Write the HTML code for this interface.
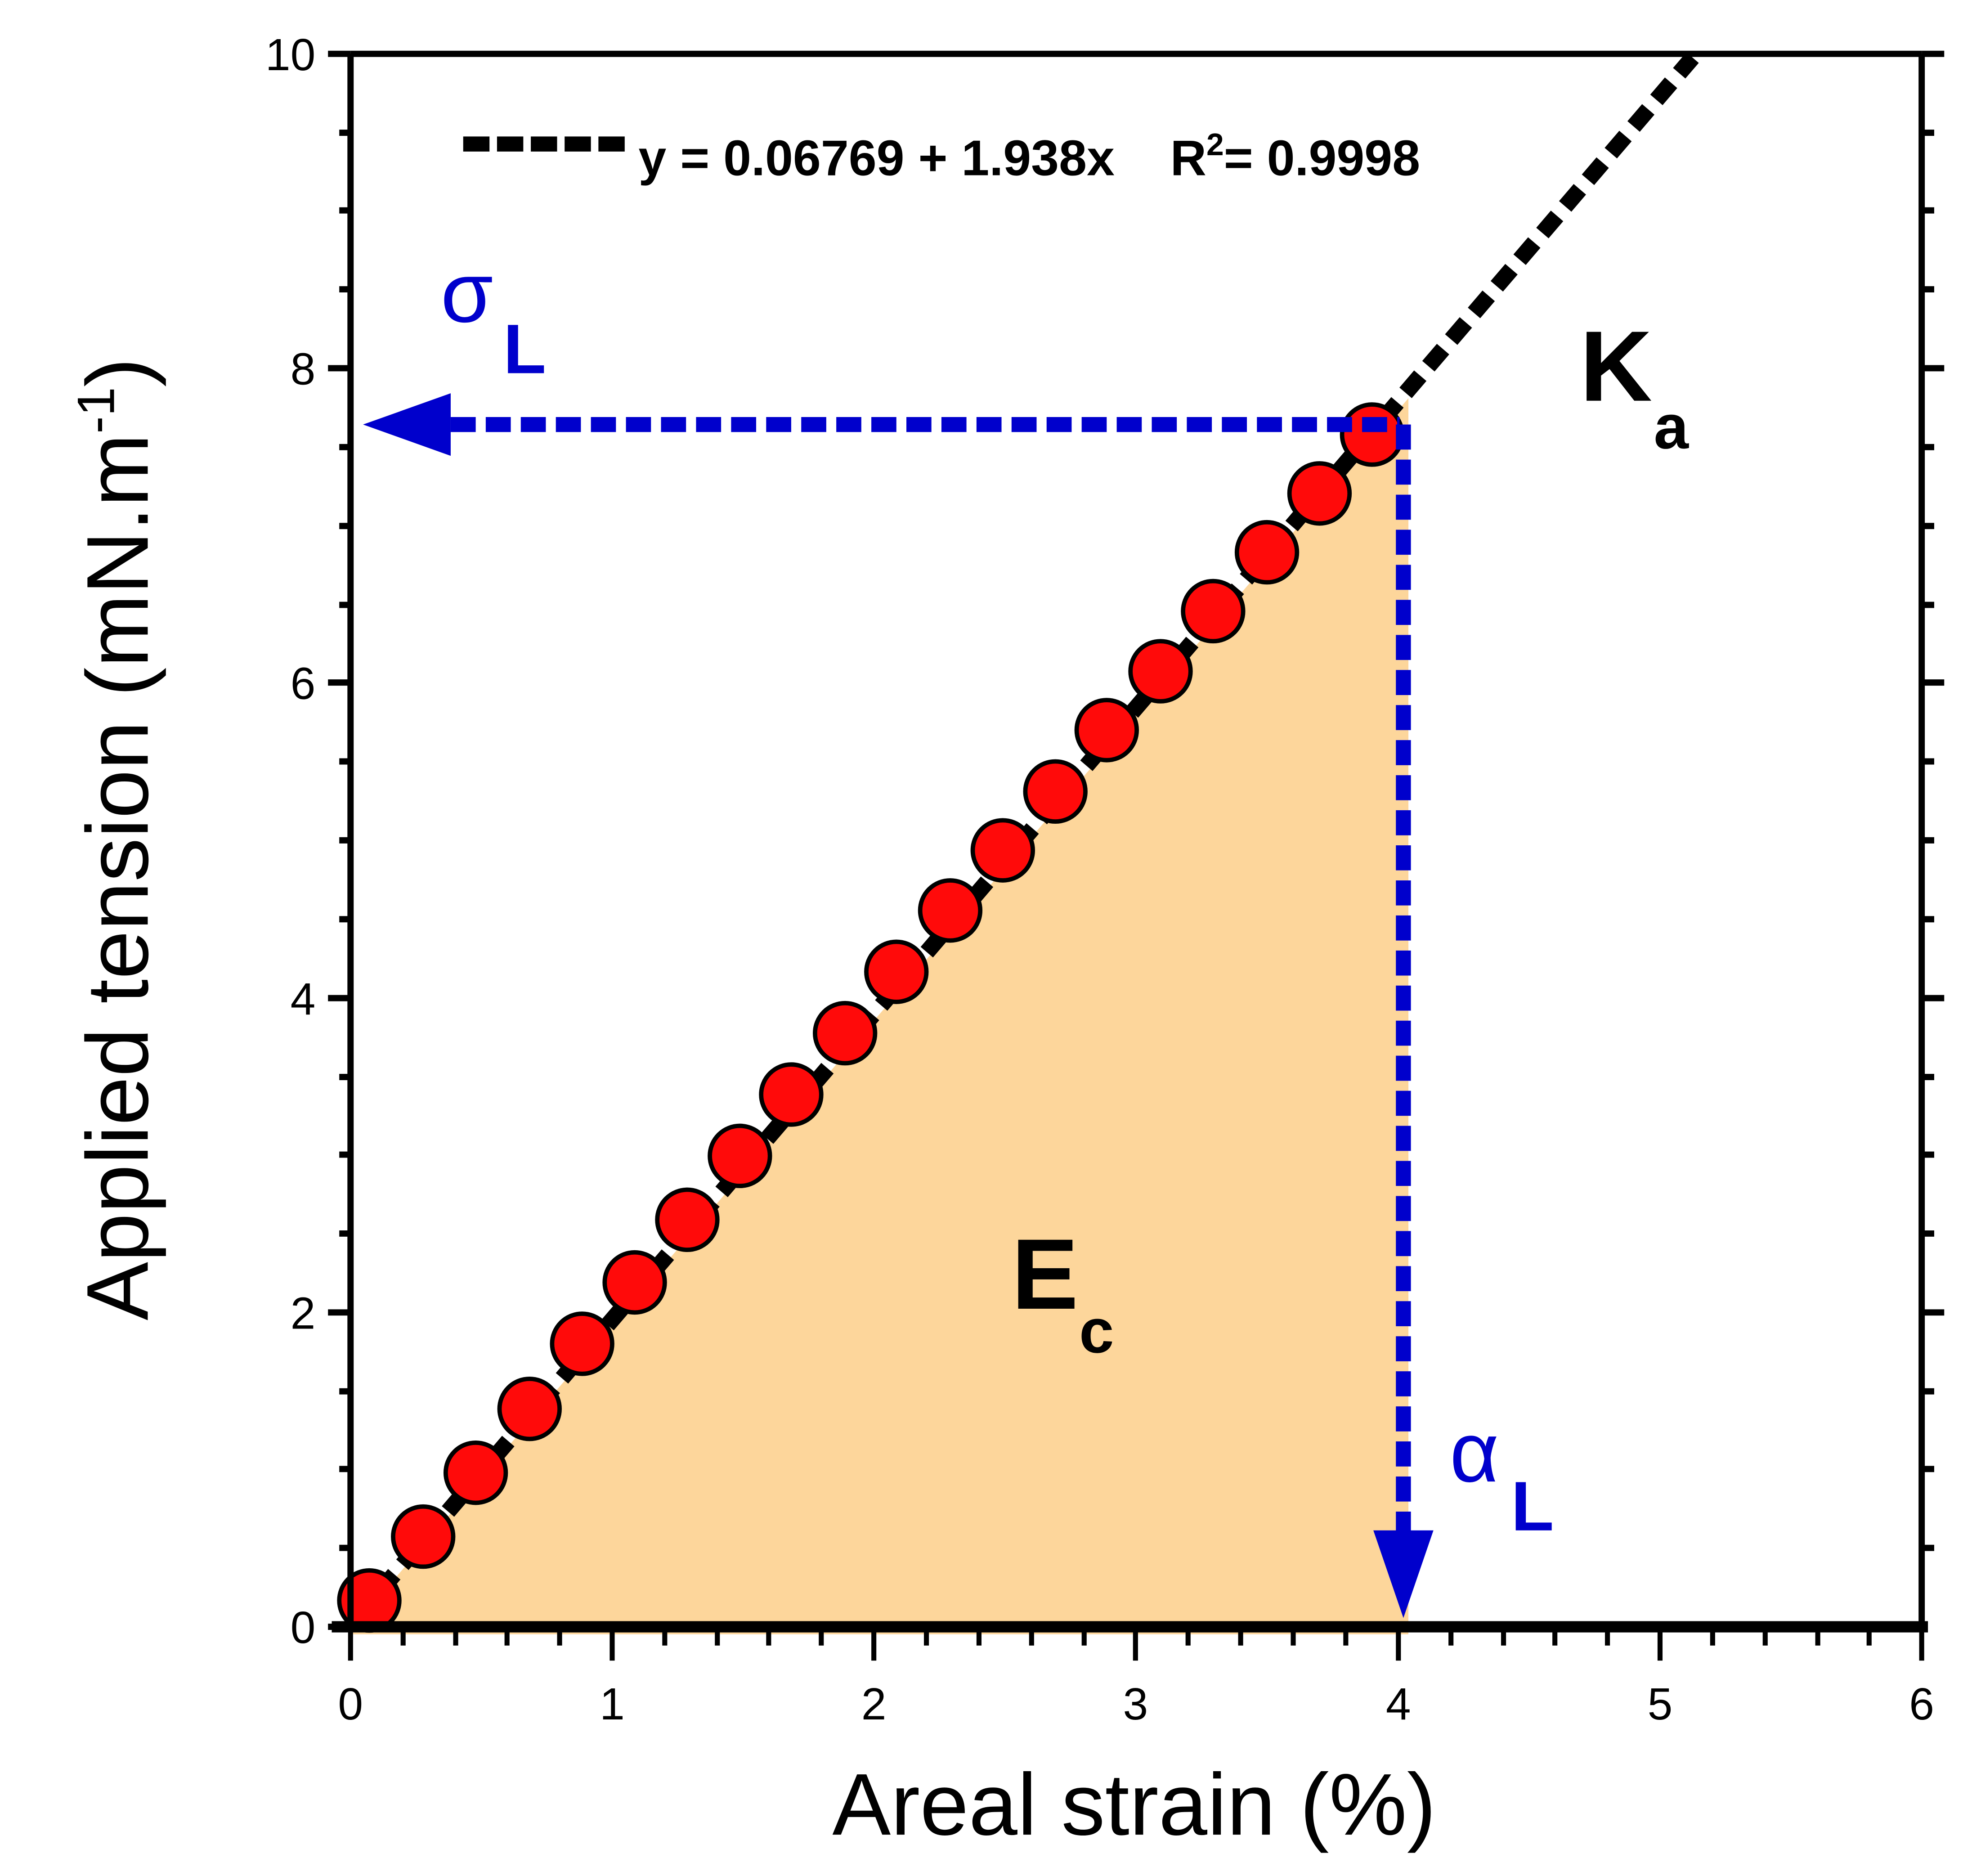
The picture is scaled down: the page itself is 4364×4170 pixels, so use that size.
<!DOCTYPE html>
<html><head><meta charset="utf-8"><style>html,body{margin:0;padding:0;background:#fff}svg{display:block}</style></head>
<body>
<svg width="4364" height="4170" viewBox="0 0 1568 1498" preserveAspectRatio="none" xmlns="http://www.w3.org/2000/svg" font-family="Liberation Sans, Arial, sans-serif">
<polygon points="282,1305 282,1298 290,1290 1125,318 1125,1305" fill="#FDD69B"/>
<line x1="285" y1="1292" x2="1352" y2="46" stroke="#000" stroke-width="13" stroke-dasharray="18,10"/>
<g fill="#FF0A0A" stroke="#000" stroke-width="3.5">
<circle cx="295" cy="1278" r="24"/><circle cx="338" cy="1227" r="24"/><circle cx="380" cy="1176" r="24"/><circle cx="423" cy="1125" r="24"/><circle cx="465" cy="1073" r="24"/><circle cx="507" cy="1024" r="24"/><circle cx="549" cy="974" r="24"/><circle cx="591" cy="923" r="24"/><circle cx="632" cy="874" r="24"/><circle cx="675" cy="825" r="24"/><circle cx="716" cy="776" r="24"/><circle cx="759" cy="727" r="24"/><circle cx="801" cy="679" r="24"/><circle cx="843" cy="632" r="24"/><circle cx="884" cy="583" r="24"/><circle cx="927" cy="536" r="24"/><circle cx="969" cy="488" r="24"/><circle cx="1012" cy="441" r="24"/><circle cx="1054" cy="394" r="24"/><circle cx="1096" cy="347" r="24"/>
</g>
<line x1="360" y1="339" x2="1118" y2="339" stroke="#0000CC" stroke-width="12" stroke-dasharray="20,8"/>
<polygon points="290,339 360,314 360,364" fill="#0000CC"/>
<line x1="1121" y1="339" x2="1121" y2="1224" stroke="#0000CC" stroke-width="12" stroke-dasharray="20,8"/>
<polygon points="1097,1222 1145,1222 1121,1292" fill="#0000CC"/>
<g stroke="#000" fill="none">
<line x1="280" y1="43" x2="1535" y2="43" stroke-width="5"/>
<line x1="1535" y1="43" x2="1535" y2="1300" stroke-width="5"/>
<line x1="280" y1="43" x2="280" y2="1300" stroke-width="5"/>
<line x1="265" y1="1299" x2="1540" y2="1299" stroke-width="9"/>
<path stroke-width="5" d="M262,43H280M262,294H280M262,545H280M262,797H280M262,1048H280M262,1299H280M271,106H280M271,168H280M271,231H280M271,357H280M271,420H280M271,483H280M271,608H280M271,671H280M271,734H280M271,860H280M271,922H280M271,985H280M271,1111H280M271,1173H280M271,1236H280"/>
<path stroke-width="5" d="M1535,43H1553M1535,294H1553M1535,545H1553M1535,797H1553M1535,1048H1553M1535,106H1545M1535,168H1545M1535,231H1545M1535,357H1545M1535,420H1545M1535,483H1545M1535,608H1545M1535,671H1545M1535,734H1545M1535,860H1545M1535,922H1545M1535,985H1545M1535,1111H1545M1535,1173H1545M1535,1236H1545"/>
<path stroke-width="4" d="M280,1299V1326M489,1299V1326M698,1299V1326M907,1299V1326M1117,1299V1326M1326,1299V1326M1535,1299V1326M322,1299V1314M364,1299V1314M405,1299V1314M447,1299V1314M531,1299V1314M573,1299V1314M614,1299V1314M656,1299V1314M740,1299V1314M782,1299V1314M824,1299V1314M866,1299V1314M949,1299V1314M991,1299V1314M1033,1299V1314M1075,1299V1314M1159,1299V1314M1201,1299V1314M1242,1299V1314M1284,1299V1314M1368,1299V1314M1410,1299V1314M1452,1299V1314M1493,1299V1314"/>
</g>
<g font-size="36" text-anchor="end" fill="#000">
<text x="252" y="56">10</text><text x="252" y="307">8</text><text x="252" y="558">6</text><text x="252" y="810">4</text><text x="252" y="1061">2</text><text x="252" y="1312">0</text>
</g>
<g font-size="36" text-anchor="middle" fill="#000">
<text x="280" y="1373">0</text><text x="489" y="1373">1</text><text x="698" y="1373">2</text><text x="907" y="1373">3</text><text x="1117" y="1373">4</text><text x="1326" y="1373">5</text><text x="1535" y="1373">6</text>
</g>
<text x="906" y="1465" font-size="70" text-anchor="middle">Areal strain (%)</text>
<text transform="translate(118,670) rotate(-90)" font-size="70" text-anchor="middle">Applied tension (mN.m<tspan dy="-27" font-size="42">-1</tspan><tspan dy="27">)</tspan></text>
<line x1="370" y1="115" x2="502" y2="115" stroke="#000" stroke-width="12" stroke-dasharray="21,6"/>
<text x="510" y="140" font-size="40" font-weight="bold" xml:space="preserve">y = 0.06769 + 1.938x    R<tspan dy="-16" font-size="25">2</tspan><tspan dy="16">= 0.9998</tspan></text>
<text x="352" y="257" font-size="68" fill="#0000CC">σ</text>
<text x="402" y="298" font-size="56" fill="#0000CC" font-weight="bold">L</text>
<text x="1158" y="1183" font-size="68" fill="#0000CC">α</text>
<text x="1207" y="1222" font-size="56" fill="#0000CC" font-weight="bold">L</text>
<text x="1262" y="320" font-size="80" font-weight="bold">K</text>
<text x="1321" y="358" font-size="50" font-weight="bold">a</text>
<text x="808" y="1045" font-size="80" font-weight="bold">E</text>
<text x="862" y="1080" font-size="50" font-weight="bold">c</text>
</svg>
</body></html>
